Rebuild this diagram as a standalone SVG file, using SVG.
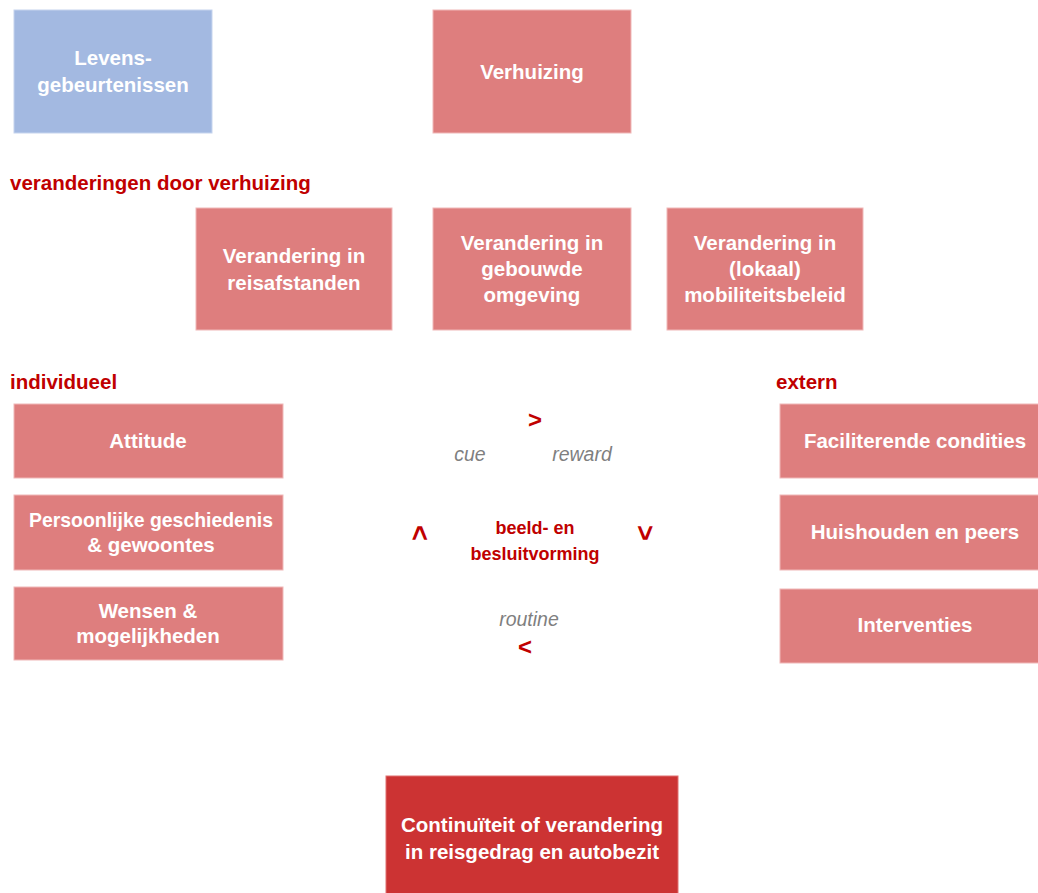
<svg xmlns="http://www.w3.org/2000/svg" width="1038" height="893" viewBox="0 0 1038 893">
<style>
.box{fill:#de7e7e;stroke:#f0b8b8;stroke-width:1}
.blue{fill:#a3b9e1;stroke:#c5d4ee;stroke-width:1}
.dark{fill:#cc3333;stroke:#e07070;stroke-width:1}
.t{font-family:"Liberation Sans",Arial,sans-serif;font-weight:bold;font-size:20.5px;fill:#ffffff;text-anchor:middle}
.h{font-family:"Liberation Sans",Arial,sans-serif;font-weight:bold;font-size:20.5px;fill:#c00000}
.g{font-family:"Liberation Sans",Arial,sans-serif;font-style:italic;font-size:19.5px;fill:#7f7f7f;text-anchor:middle}
.c{font-family:"Liberation Sans",Arial,sans-serif;font-weight:bold;font-size:18px;fill:#c00000;text-anchor:middle}
.a{font-family:"Liberation Sans",Arial,sans-serif;font-weight:bold;font-size:24px;fill:#c00000;text-anchor:middle}
.conn{stroke:#ffffff;stroke-width:1.5;fill:none}
</style>
<rect width="1038" height="893" fill="#ffffff"/>
<g id="connectors">
<line class="conn" x1="425" y1="71" x2="433" y2="71"/>
<line class="conn" x1="772" y1="441" x2="780" y2="441"/>
<line class="conn" x1="772" y1="532" x2="780" y2="532"/>
<line class="conn" x1="772" y1="625" x2="780" y2="625"/>
</g>
<g id="levensgebeurtenissen"><rect class="blue" x="14" y="10" width="198" height="123"/><text class="t" x="113" y="65">Levens-</text><text class="t" x="113" y="92">gebeurtenissen</text></g>
<g id="verhuizing"><rect class="box" x="433" y="10" width="198" height="123"/><text class="t" x="532" y="79">Verhuizing</text></g>
<text class="h" x="10" y="190">veranderingen door verhuizing</text>
<g id="reisafstanden"><rect class="box" x="196" y="208" width="196" height="122"/><text class="t" x="294" y="263">Verandering in</text><text class="t" x="294" y="290">reisafstanden</text></g>
<g id="omgeving"><rect class="box" x="433" y="208" width="198" height="122"/><text class="t" x="532" y="250">Verandering in</text><text class="t" x="532" y="276">gebouwde</text><text class="t" x="532" y="302">omgeving</text></g>
<g id="beleid"><rect class="box" x="667" y="208" width="196" height="122"/><text class="t" x="765" y="250">Verandering in</text><text class="t" x="765" y="276">(lokaal)</text><text class="t" x="765" y="302">mobiliteitsbeleid</text></g>
<text class="h" x="10" y="389">individueel</text>
<text class="h" x="776" y="389">extern</text>
<g id="attitude"><rect class="box" x="14" y="404" width="269" height="74"/><text class="t" x="148" y="448">Attitude</text></g>
<g id="geschiedenis"><rect class="box" x="14" y="495" width="269" height="75"/><text class="t" x="151" y="527" textLength="244" lengthAdjust="spacingAndGlyphs">Persoonlijke geschiedenis</text><text class="t" x="151" y="552">&amp; gewoontes</text></g>
<g id="wensen"><rect class="box" x="14" y="587" width="269" height="73"/><text class="t" x="148" y="618">Wensen &amp;</text><text class="t" x="148" y="643">mogelijkheden</text></g>
<g id="faciliterende"><rect class="box" x="780" y="404" width="262" height="74"/><text class="t" x="915" y="448">Faciliterende condities</text></g>
<g id="huishouden"><rect class="box" x="780" y="495" width="262" height="75"/><text class="t" x="915" y="539">Huishouden en peers</text></g>
<g id="interventies"><rect class="box" x="780" y="589" width="262" height="74"/><text class="t" x="915" y="632">Interventies</text></g>
<g id="cyclus">
<text class="a" x="535" y="428">&gt;</text>
<text class="g" x="470" y="461">cue</text>
<text class="g" x="582" y="461">reward</text>
<text class="a" transform="translate(420,533) rotate(-90)" x="0" y="9" style="font-size:27px">&gt;</text>
<text class="a" transform="translate(645,533) rotate(90)" x="0" y="9" style="font-size:27px">&gt;</text>
<text class="c" x="535" y="534">beeld- en</text>
<text class="c" x="535" y="560">besluitvorming</text>
<text class="g" x="529" y="626">routine</text>
<text class="a" x="525" y="655">&lt;</text>
</g>
<g id="continuiteit"><rect class="dark" x="386" y="776" width="292" height="120"/><text class="t" x="532" y="832">Continuïteit of verandering</text><text class="t" x="532" y="859">in reisgedrag en autobezit</text></g>
</svg>
